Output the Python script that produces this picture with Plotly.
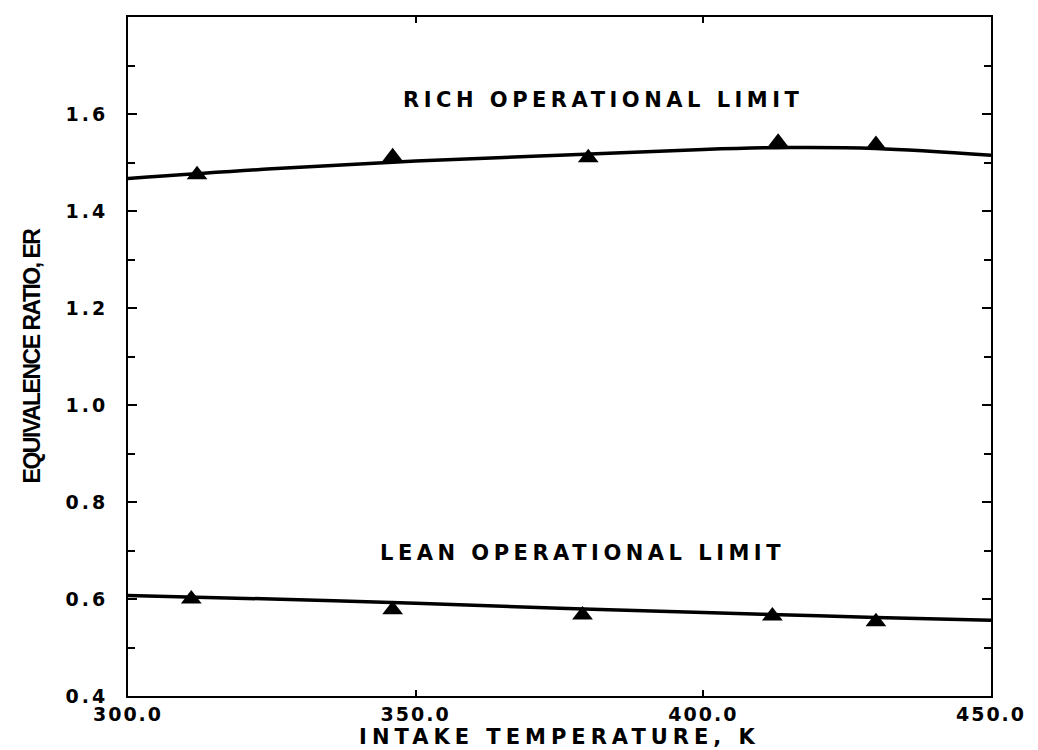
import plotly.graph_objects as go

# 拟合曲线
curve_temp = [300, 325, 350, 375, 400, 415, 430, 450]
rich_curve = [1.467, 1.487, 1.503, 1.515, 1.527, 1.531, 1.529, 1.515]
lean_curve = [0.607, 0.600, 0.591, 0.581, 0.572, 0.567, 0.562, 0.556]

# 实验点
rich_temp = [312, 346, 380, 413, 430]
rich_er = [1.475, 1.512, 1.510, 1.542, 1.537]
lean_temp = [311, 346, 379, 412, 430]
lean_er = [0.600, 0.578, 0.567, 0.565, 0.553]

x_ticks = [300, 350, 400, 450]
y_ticks = [0.4, 0.6, 0.8, 1.0, 1.2, 1.4, 1.6]

FONT = 'DejaVu Sans'


def wide(s, sp):
    """调字距, 模仿原图的宽体/窄体字"""
    return f'<span style="letter-spacing:{sp}px">{s}</span>'


fig = go.Figure()

for x, y in [(curve_temp, rich_curve), (curve_temp, lean_curve)]:
    fig.add_trace(go.Scatter(
        x=x, y=y, mode='lines', line=dict(color='black', width=3.5, shape='spline'),
        showlegend=False, hoverinfo='skip'
    ))

for x, y in [(rich_temp, rich_er), (lean_temp, lean_er)]:
    fig.add_trace(go.Scatter(
        x=x, y=y, mode='markers',
        marker=dict(symbol='triangle-up', size=18, color='black'),
        showlegend=False
    ))

fig.add_annotation(x=382.5, y=1.628, text=wide('RICH OPERATIONAL LIMIT', 4.5), showarrow=False,
                   font=dict(family=FONT, size=21, color='black', weight='bold'))
fig.add_annotation(x=379, y=0.695, text=wide('LEAN OPERATIONAL LIMIT', 4.5), showarrow=False,
                   font=dict(family=FONT, size=21, color='black', weight='bold'))

fig.update_xaxes(
    range=[300, 450], tickvals=x_ticks,
    ticktext=[wide(f'{v:.1f}', 2) for v in x_ticks],
    ticks='inside', ticklen=6, tickwidth=1.5, tickcolor='black',
    showline=True, linecolor='black', linewidth=2, mirror='ticks',
    showgrid=False, zeroline=False,
    tickfont=dict(family=FONT, size=19, color='black', weight='bold'),
    title=dict(text=wide('INTAKE TEMPERATURE, K', 5), standoff=4,
               font=dict(family=FONT, size=21, color='black', weight='bold')),
)
fig.update_yaxes(
    range=[0.4, 1.8], tickvals=y_ticks,
    ticktext=[wide(f'{v:.1f}', 3) for v in y_ticks],
    ticks='inside', ticklen=9, tickwidth=1.5, tickcolor='black',
    minor=dict(dtick=0.1, ticks='inside', ticklen=7, tickwidth=1.5, tickcolor='black'),
    showline=True, linecolor='black', linewidth=2, mirror='ticks',
    showgrid=False, zeroline=False,
    tickfont=dict(family=FONT, size=19, color='black', weight='bold'),
    ticklabelstandoff=14,
    title=dict(text=wide('EQUIVALENCE RATIO, ER', -1.5), standoff=18,
               font=dict(family='Liberation Sans', size=23,
                         color='black', weight='bold')),
)

fig.update_layout(
    width=1031, height=743,
    margin=dict(l=120, r=48, t=7, b=55),
    plot_bgcolor='white', paper_bgcolor='white',
)

fig.write_html("out.html")
